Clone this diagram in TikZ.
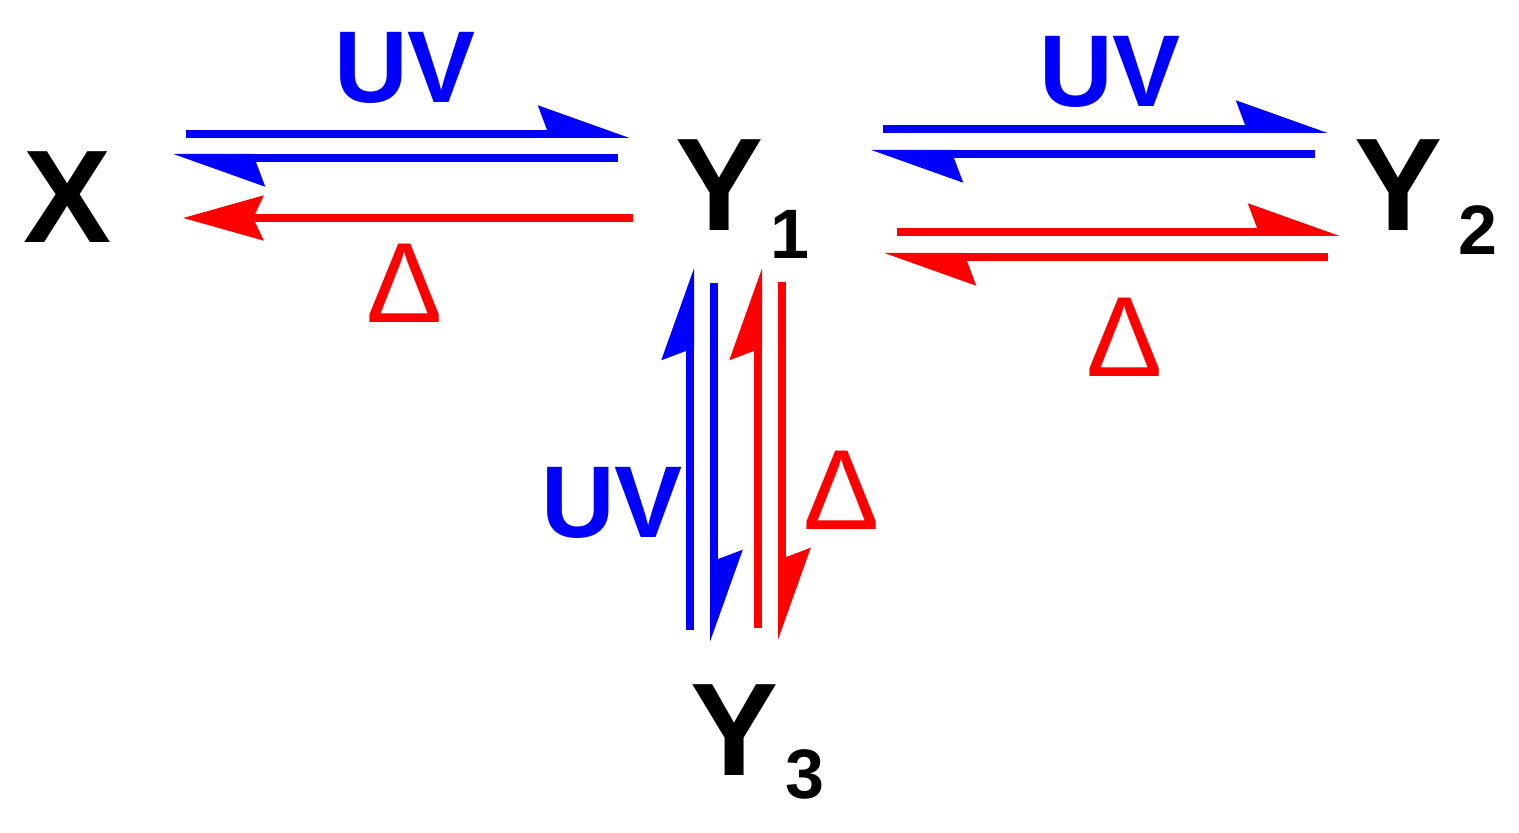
\documentclass[tikz,border=0pt]{standalone}
\usepackage{fontspec}
\setmainfont{Liberation Sans}
\usetikzlibrary{arrows.meta}
\definecolor{bl}{RGB}{0,0,255}
\definecolor{rd}{RGB}{255,0,0}
\begin{document}
\begin{tikzpicture}[x=0.5pt,y=-0.5pt,
  hp/.style={line width=4pt,-{Stealth[harpoon,length=40pt,width=28pt,inset=5pt]}},
  fa/.style={line width=4pt,-{Stealth[length=40pt,width=22pt,inset=5pt]}},
  big/.style={font=\fontsize{66}{66}\selectfont\bfseries,inner sep=0pt},
  sub/.style={font=\fontsize{35}{35}\selectfont\bfseries,inner sep=0pt},
  uv/.style={font=\fontsize{51}{51}\selectfont\bfseries,text=bl,inner sep=0pt},
  dl/.style={font=\fontsize{57}{57}\selectfont,text=rd,inner sep=0pt}]
\useasboundingbox (0,0) rectangle (1519,833);
\node[big] (X) at (68,197) {X};
\node[big] (Y1) at (720,185) {Y}; \node[sub] (s1) at (790,234) {1};
\node[big] (Y2) at (1398,185) {Y}; \node[sub] (s2) at (1478,230) {2};
\node[big] (Y3) at (735,730) {Y}; \node[sub] (s3) at (805,774) {3};
\node[uv] (u1) at (405,68) {UV};
\node[uv] (u2) at (1110,72) {UV};
\node[uv] (u3) at (612,503) {UV};
\node[dl] (d1) at (405,283) {Δ};
\node[dl] (d2) at (1125,337) {Δ};
\node[dl] (d3) at (842,490) {Δ};
% endpoints
\coordinate (a1) at (186,134); \coordinate (b1) at (630,134);
\coordinate (a2) at (618,158); \coordinate (b2) at (173,158);
\coordinate (a3) at (633,218); \coordinate (b3) at (183,218);
\coordinate (a4) at (883,129); \coordinate (b4) at (1328,129);
\coordinate (a5) at (1315,154); \coordinate (b5) at (871,154);
\coordinate (a6) at (897,232); \coordinate (b6) at (1340,232);
\coordinate (a7) at (1328,257); \coordinate (b7) at (884,257);
\coordinate (a8) at (690,630); \coordinate (b8) at (690,268);
\coordinate (a9) at (714,283); \coordinate (b9) at (714,642);
\coordinate (a10) at (758,628); \coordinate (b10) at (758,268);
\coordinate (a11) at (782,282); \coordinate (b11) at (782,640);
\draw[hp,bl] (a1) -- (b1);
\draw[hp,bl] (a2) -- (b2);
\draw[fa,rd] (a3) -- (b3);
\draw[hp,bl] (a4) -- (b4);
\draw[hp,bl] (a5) -- (b5);
\draw[hp,rd] (a6) -- (b6);
\draw[hp,rd] (a7) -- (b7);
\draw[hp,bl] (a8) -- (b8);
\draw[hp,bl] (a9) -- (b9);
\draw[hp,rd] (a10) -- (b10);
\draw[hp,rd] (a11) -- (b11);
\end{tikzpicture}
\end{document}
